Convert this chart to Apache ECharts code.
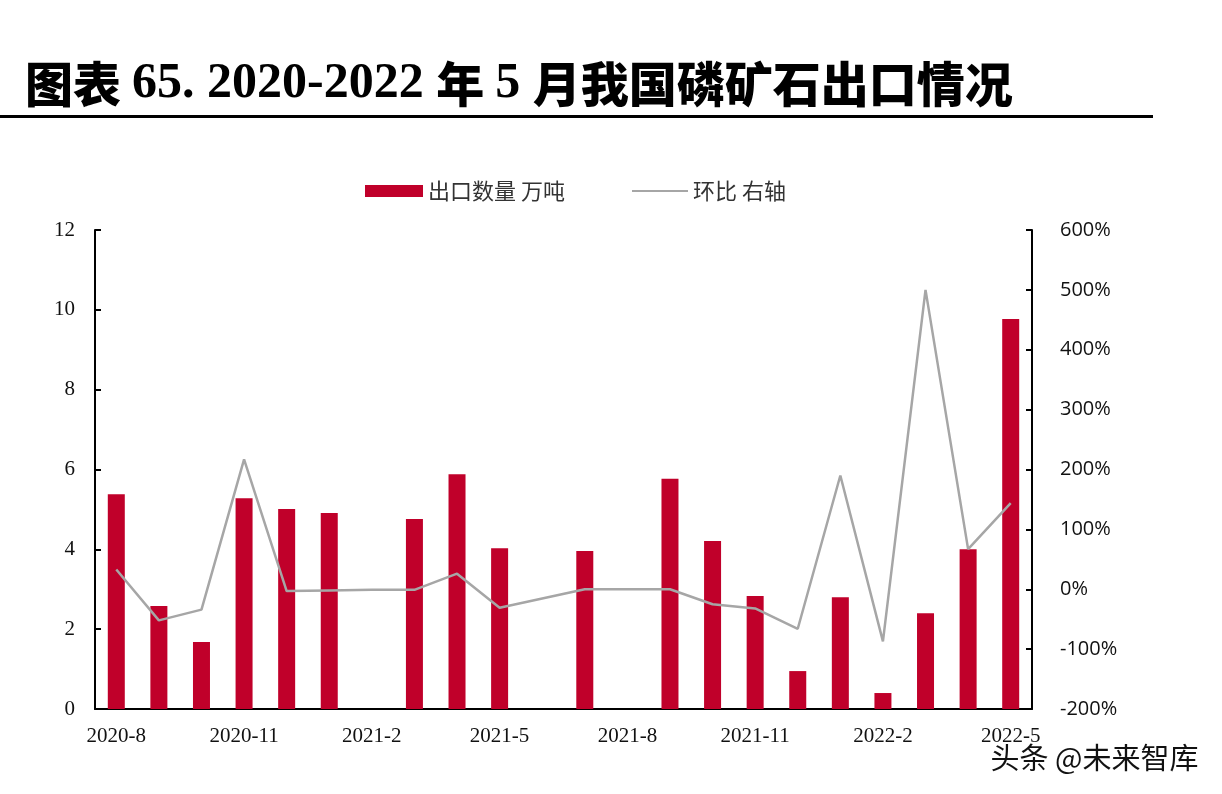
<!DOCTYPE html>
<html><head><meta charset="utf-8">
<script src="https://cdn.jsdelivr.net/npm/echarts@6/dist/echarts.min.js"></script>
<style>html,body{margin:0;padding:0;background:#fff}#c{width:1222px;height:794px}</style>
</head><body><div id="c"></div>
<script>
const categories = ['2020-8','2020-9','2020-10','2020-11','2020-12','2021-1','2021-2','2021-3','2021-4','2021-5','2021-6','2021-7','2021-8','2021-9','2021-10','2021-11','2021-12','2022-1','2022-2','2022-3','2022-4','2022-5'];
const exportVolume = [5.38,2.58,1.68,5.28,5.01,4.91,null,4.76,5.88,4.03,null,3.96,null,5.77,4.21,2.83,0.95,2.8,0.4,2.4,4.0,9.77];
const momChange = [33,-52,-34,217,-3,-2,-1,-1,26,-31,null,0,0,0,-25,-32,-66,190,-87,500,67,144];
const leftTicks = {min:0,max:12,interval:2};
const rightTicks = {min:-200,max:600,interval:100};

const chart = echarts.init(document.getElementById('c'));
const serif = '"Liberation Serif","Times New Roman",serif';
const legendText = {fontFamily:'"Noto Sans CJK SC"',fontSize:22,color:'#333'};
chart.setOption({
  animation:false,
  backgroundColor:'#fff',
  title:{
    text:'{c|图表 }{n|65. 2020-2022 }{c|年 }{n|5 }{c|月我国磷矿石出口情况}',
    left:20, top:54,
    textStyle:{rich:{
      c:{fontFamily:'"Noto Sans CJK SC"',fontWeight:900,fontSize:48,color:'#000'},
      n:{fontFamily:serif,fontWeight:'bold',fontSize:50,color:'#000'}
    }}
  },
  graphic:[
    {type:'rect',shape:{x:0,y:115,width:1153,height:3},style:{fill:'#000'}},
    {type:'text',right:22,bottom:20,style:{text:'头条 @未来智库',fontFamily:'"Noto Sans CJK SC"',fontSize:29,fill:'#111',stroke:'#fff',lineWidth:3}}
  ],
  legend:[
    {left:360, top:175, textStyle:legendText,
     data:[{name:'出口数量 万吨',icon:'rect',itemStyle:{color:'#C0002A'}}],
     itemWidth:58, itemHeight:12, itemGap:8},
    {left:627, top:175, textStyle:legendText,
     data:[{name:'环比 右轴',icon:'rect',itemStyle:{color:'#A6A6A6'}}],
     itemWidth:56, itemHeight:2, itemGap:8}
  ],
  grid:{left:95,right:190,top:230,bottom:85},
  xAxis:{
    type:'category', data:categories, boundaryGap:true,
    axisLine:{lineStyle:{color:'#000',width:2}},
    axisTick:{inside:true,interval:2,length:6,lineStyle:{color:'#000',width:2}},
    axisLabel:{interval:2,fontFamily:serif,fontSize:21,color:'#111',margin:17}
  },
  yAxis:[
    {type:'value',min:leftTicks.min,max:leftTicks.max,interval:leftTicks.interval,
     splitLine:{show:false},
     axisLine:{show:true,lineStyle:{color:'#000',width:2}},
     axisTick:{show:true,inside:true,length:6,lineStyle:{color:'#000',width:2}},
     axisLabel:{fontFamily:serif,fontSize:21,color:'#111',margin:20}},
    {type:'value',min:rightTicks.min,max:rightTicks.max,interval:rightTicks.interval,position:'right',
     splitLine:{show:false},
     axisLine:{show:true,lineStyle:{color:'#000',width:2}},
     axisTick:{show:true,inside:true,length:6,lineStyle:{color:'#000',width:2}},
     axisLabel:{formatter:'{value}%',fontFamily:'"Open Sans","DejaVu Sans",sans-serif',fontSize:20,color:'#111',margin:28}}
  ],
  series:[
    {name:'出口数量 万吨',type:'bar',data:exportVolume,barWidth:17,
     itemStyle:{color:'#C0002A'}},
    {name:'环比 右轴',type:'line',yAxisIndex:1,data:momChange,connectNulls:true,
     symbol:'none',lineStyle:{color:'#A6A6A6',width:2.5},itemStyle:{color:'#A6A6A6'},z:5}
  ]
});
</script></body></html>
